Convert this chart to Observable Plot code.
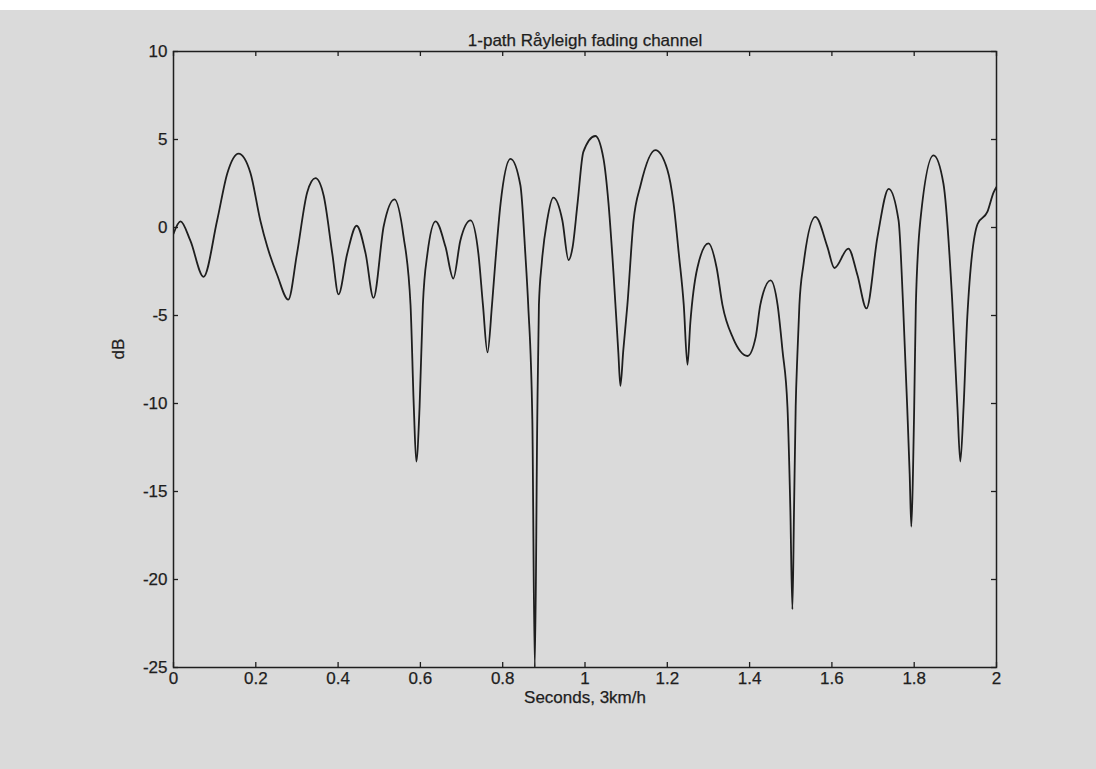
<!DOCTYPE html>
<html>
<head>
<meta charset="utf-8">
<script src="https://cdn.jsdelivr.net/npm/d3@7"></script>
<script src="https://cdn.jsdelivr.net/npm/@observablehq/plot@0.6"></script>
<style>
  html, body { margin: 0; padding: 0; }
  body { width: 1096px; height: 769px; background: #dadada; overflow: hidden; font-family: "Liberation Sans", Arial, sans-serif; }
  #top { height: 10px; background: #ffffff; }
  #chart svg { display: block; background: transparent; }
  #chart svg text { stroke: #1e1e1e; stroke-width: 0.25px; }
</style>
</head>
<body>
<div id="top"></div>
<div id="chart"></div>
<script>
// Time axis (seconds) and received level (dB)
const seconds = [
  0.000, 0.017, 0.041, 0.073, 0.106, 0.131, 0.158, 0.187, 0.211, 0.228,
  0.252, 0.279, 0.300, 0.325, 0.345, 0.365, 0.386, 0.401, 0.422, 0.445,
  0.467, 0.486, 0.511, 0.537, 0.559, 0.576, 0.584, 0.590, 0.598, 0.606,
  0.617, 0.637, 0.661, 0.680, 0.697, 0.722, 0.741, 0.752, 0.763, 0.774,
  0.782, 0.795, 0.819, 0.843, 0.855, 0.862, 0.872, 0.878, 0.884, 0.888,
  0.895, 0.908, 0.923, 0.945, 0.960, 0.970, 0.982, 0.996, 1.025, 1.045,
  1.057, 1.069, 1.081, 1.086, 1.093, 1.103, 1.118, 1.135, 1.171, 1.200,
  1.215, 1.228, 1.240, 1.249, 1.256, 1.273, 1.300, 1.320, 1.334, 1.360,
  1.395, 1.415, 1.426, 1.451, 1.468, 1.480, 1.492, 1.499, 1.504, 1.508,
  1.512, 1.516, 1.521, 1.531, 1.560, 1.589, 1.606, 1.640, 1.662, 1.684,
  1.711, 1.738, 1.762, 1.773, 1.783, 1.789, 1.793, 1.797, 1.800, 1.804,
  1.815, 1.847, 1.871, 1.892, 1.905, 1.912, 1.920, 1.929, 1.954, 1.978,
  1.993, 2.000
];
const levelDb = [
  -0.35, 0.35, -0.75, -2.8, 0.4, 3.1, 4.2, 3.1, 0.4, -1.1,
  -2.7, -4.1, -1.5, 2.0, 2.8, 1.8, -1.5, -3.8, -1.5, 0.1,
  -1.5, -4.0, 0.1, 1.6, -0.5, -4.4, -10.2, -13.3, -10.2, -4.4,
  -1.5, 0.35, -1.1, -2.9, -0.75, 0.4, -1.5, -4.4, -7.1, -4.4,
  -2.0, 1.4, 3.9, 2.4, -1.5, -4.4, -10.9, -25.0, -10.9, -4.4,
  -2.0, 0.4, 1.7, 0.4, -1.85, -1.1, 1.4, 4.3, 5.2, 3.9,
  1.4, -2.5, -7.1, -9.0, -7.0, -4.4, 0.4, 2.4, 4.4, 3.3,
  1.4, -1.5, -4.4, -7.8, -5.4, -2.3, -0.9, -2.3, -4.4, -6.3,
  -7.3, -6.2, -4.4, -3.0, -4.4, -7.0, -10.2, -16.0, -21.7, -16.0,
  -10.2, -7.3, -4.4, -2.1, 0.6, -1.1, -2.3, -1.2, -2.7, -4.6,
  -0.5, 2.2, 0.4, -4.4, -10.2, -14.0, -17.0, -14.0, -10.2, -4.4,
  0.4, 4.1, 2.5, -4.0, -10.2, -13.3, -10.2, -5.1, 0.2, 0.9,
  2.0, 2.3
];
const xTicks = [0, 0.2, 0.4, 0.6, 0.8, 1, 1.2, 1.4, 1.6, 1.8, 2];
const yTicks = [-25, -20, -15, -10, -5, 0, 5, 10];
const xTickLabels = ["0", "0.2", "0.4", "0.6", "0.8", "1", "1.2", "1.4", "1.6", "1.8", "2"];
const yTickLabels = ["-25", "-20", "-15", "-10", "-5", "0", "5", "10"];
const titleText = "1-path Råyleigh fading channel";
const xLabel = "Seconds, 3km/h";
const yLabel = "dB";

const data = seconds.map((s, i) => ({s, db: levelDb[i]}));

const W = 1096, H = 759;
const mL = 173, mR = 100, mT = 41, mB = 102;
const innerW = W - mL - mR, innerH = H - mT - mB;
const tick = 5;
const ink = "#1e1e1e";

const plot = Plot.plot({
  width: W,
  height: H,
  marginLeft: mL,
  marginRight: mR,
  marginTop: mT,
  marginBottom: mB,
  style: {background: "transparent", fontFamily: "'Liberation Sans', Arial, sans-serif", fontSize: "17px", color: ink},
  x: {domain: [0, 2]},
  y: {domain: [-25, 10]},
  marks: [
    Plot.frame({stroke: ink, strokeWidth: 1.5}),
    // inward ticks on all four sides
    Plot.tickX(xTicks, {x: d => d, insetTop: innerH - tick, stroke: ink, strokeWidth: 1.3}),
    Plot.tickX(xTicks, {x: d => d, insetBottom: innerH - tick, stroke: ink, strokeWidth: 1.3}),
    Plot.tickY(yTicks, {y: d => d, insetRight: innerW - tick, stroke: ink, strokeWidth: 1.3}),
    Plot.tickY(yTicks, {y: d => d, insetLeft: innerW - tick, stroke: ink, strokeWidth: 1.3}),
    Plot.axisX({ticks: xTicks, tickSize: 0, tickPadding: 4, fontSize: 17, tickFormat: d => xTickLabels[xTicks.indexOf(d)], label: null, fill: ink}),
    Plot.axisY({ticks: yTicks, tickSize: 0, tickPadding: 6, fontSize: 17, tickFormat: d => yTickLabels[yTicks.indexOf(d)], label: null, fill: ink}),
    Plot.line(data, {x: "s", y: "db", curve: "monotone-x", stroke: ink, strokeWidth: 1.8, clip: true}),
    Plot.text([titleText], {frameAnchor: "top", dy: -18, text: d => d, fontSize: 17, fill: ink}),
    Plot.text([xLabel], {frameAnchor: "bottom", dy: 35, text: d => d, fontSize: 17, fill: ink}),
    Plot.text([yLabel], {frameAnchor: "left", dx: -55, rotate: -90, text: d => d, fontSize: 17, fill: ink})
  ]
});
document.getElementById("chart").appendChild(plot);
</script>
</body>
</html>
